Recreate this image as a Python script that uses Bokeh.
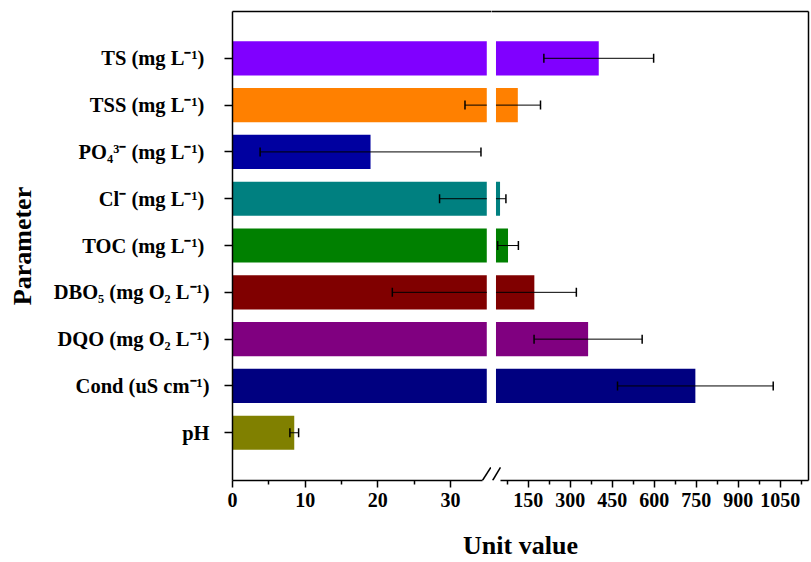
import numpy as np
from bokeh.plotting import figure
from bokeh.models import Range1d, FixedTicker, LinearAxis, Label
from bokeh.layouts import row, column
from bokeh.embed import file_html
from bokeh.resources import INLINE

# ---------------- data (top to bottom) ----------------
parameters = ["TS  (mg L⁻¹)", "TSS  (mg L⁻¹)", "PO₄³⁻  (mg L⁻¹)", "Cl⁻  (mg L⁻¹)",
              "TOC  (mg L⁻¹)", "DBO₅ (mg O₂ L⁻¹)", "DQO (mg O₂ L⁻¹)",
              "Cond (uS cm⁻¹)", "pH"]
means = [402, 113, 19.0, 49.5, 78, 172, 364, 747, 8.5]
sds = [196, 81, 15.2, 21, 37, 150, 193, 278, 0.6]
colors = ["#8000FF", "#FF8000", "#0000A0", "#008080", "#008000",
          "#800000", "#800080", "#000080", "#808000"]

left_ticks = [0, 10, 20, 30]
left_minor = [5, 15, 25]
right_ticks = [150, 300, 450, 600, 750, 900, 1050]
right_minor = [75, 225, 375, 525, 675, 825, 975, 1125]

BREAK = 35            # axis break value
LEFT_END = 35.65      # left panel range end
RIGHT_START, RIGHT_END = 19, 1151
Y_START, Y_END = -1.02, 9.0

FONT = "Liberation Serif"

n = len(parameters)
pos = np.arange(n)[::-1].astype(float)
means_a = np.array(means, dtype=float)
sds_a = np.array(sds, dtype=float)
lo = means_a - sds_a
hi = means_a + sds_a

y_range = Range1d(Y_START, Y_END)


def style_axis(ax):
    ax.axis_line_width = 1.5
    ax.axis_line_color = "black"
    ax.major_tick_line_width = 1.5
    ax.minor_tick_line_width = 1.5
    ax.major_tick_line_color = "black"
    ax.minor_tick_line_color = "black"
    ax.major_tick_in = 0
    ax.minor_tick_in = 0
    ax.major_tick_out = 7
    ax.minor_tick_out = 4
    ax.major_label_text_font = FONT
    ax.major_label_text_font_style = "bold"
    ax.major_label_text_font_size = "20px"
    ax.major_label_text_color = "black"


def blank_axis(bounds):
    ax = LinearAxis(ticker=FixedTicker(ticks=[], minor_ticks=[]), bounds=bounds)
    ax.axis_line_width = 1.5
    ax.axis_line_color = "black"
    ax.major_tick_out = 0
    ax.major_tick_in = 0
    ax.minor_tick_out = 0
    ax.minor_tick_in = 0
    ax.major_label_standoff = 0
    ax.major_label_text_font_size = "0px"
    return ax


def base_fig(width, x_range, mbl, mbr):
    p = figure(width=width, height=515, x_range=x_range, y_range=y_range,
               output_backend="svg", toolbar_location=None,
               x_axis_location=None, y_axis_location=None,
               min_border_left=mbl, min_border_right=mbr,
               min_border_top=11, min_border_bottom=35)
    p.outline_line_color = None
    p.background_fill_color = "white"
    p.border_fill_color = "white"
    p.grid.visible = False
    return p


# ---------------- left panel (0 .. break) ----------------
pL = base_fig(491, Range1d(0, LEFT_END), 232, 0)

pL.hbar(y=pos, left=0, right=np.minimum(means_a, BREAK), height=0.73,
        fill_color=colors, line_color=None)

mL = lo < BREAK
pL.segment(x0=lo[mL], x1=np.minimum(hi[mL], BREAK), y0=pos[mL], y1=pos[mL],
           line_color="black", line_width=1)
cap_x_L = list(lo[lo <= BREAK]) + list(hi[hi <= BREAK])
cap_y_L = list(pos[lo <= BREAK]) + list(pos[hi <= BREAK])
pL.scatter(x=cap_x_L, y=cap_y_L, marker="dash", angle=np.pi / 2, size=9,
           line_color="black", line_width=1.5)

yax = LinearAxis(ticker=FixedTicker(ticks=list(pos), minor_ticks=[]),
                 bounds=(Y_START - 0.18, Y_END))
style_axis(yax)
yax.major_tick_out = 8
yax.major_label_standoff = 15
yax.major_label_text_font_size = "20.5px"
yax.major_label_overrides = {float(p_): lab for p_, lab in zip(pos, parameters)}
yax.axis_label = "Parameter"
yax.axis_label_text_font = FONT
yax.axis_label_text_font_style = "bold"
yax.axis_label_text_font_size = "26px"
yax.axis_label_text_color = "black"
yax.axis_label_standoff = 14
pL.add_layout(yax, "left")

xaxL = LinearAxis(ticker=FixedTicker(ticks=left_ticks, minor_ticks=left_minor),
                  bounds=(-1, 34.4))
style_axis(xaxL)
pL.add_layout(xaxL, "below")
pL.add_layout(blank_axis((-1.2, LEFT_END)), "above")

# axis-break mark (left half of "//")
pL.segment(x0=[BREAK - 0.6], y0=[Y_START], x1=[BREAK + 0.55], y1=[Y_START + 0.28],
           line_color="black", line_width=1.5)

# ---------------- right panel (break .. end) ----------------
pR = base_fig(320, Range1d(RIGHT_START, RIGHT_END), 0, 3)

mR = means_a > BREAK
pR.hbar(y=pos[mR], left=BREAK, right=means_a[mR], height=0.73,
        fill_color=[c for c, m in zip(colors, mR) if m], line_color=None)

mE = hi > BREAK
pR.segment(x0=np.maximum(lo[mE], BREAK), x1=hi[mE], y0=pos[mE], y1=pos[mE],
           line_color="black", line_width=1)
cap_x_R = list(lo[lo >= BREAK]) + list(hi[hi >= BREAK])
cap_y_R = list(pos[lo >= BREAK]) + list(pos[hi >= BREAK])
pR.scatter(x=cap_x_R, y=cap_y_R, marker="dash", angle=np.pi / 2, size=9,
           line_color="black", line_width=1.5)

xaxR = LinearAxis(ticker=FixedTicker(ticks=right_ticks, minor_ticks=right_minor),
                  bounds=(51, RIGHT_END))
style_axis(xaxR)
pR.add_layout(xaxR, "below")
pR.add_layout(blank_axis((RIGHT_START, RIGHT_END)), "above")
pR.add_layout(blank_axis((Y_START, Y_END)), "right")

# axis-break mark (right half of "//")
pR.segment(x0=[BREAK - 12], y0=[Y_START], x1=[BREAK + 16], y1=[Y_START + 0.28],
           line_color="black", line_width=1.5)

# ---------------- x-axis title ----------------
pX = figure(width=811, height=47, x_range=Range1d(0, 1), y_range=Range1d(0, 1),
            output_backend="svg", toolbar_location=None,
            x_axis_location=None, y_axis_location=None,
            min_border_left=232, min_border_right=3,
            min_border_top=0, min_border_bottom=0)
pX.outline_line_color = None
pX.grid.visible = False
pX.add_layout(Label(x=0.5, y=0.36, text="Unit value", text_align="center",
                    text_baseline="middle", text_font=FONT,
                    text_font_style="bold", text_font_size="26px",
                    text_color="black"))

layout = column(row(pL, pR), pX)

open("out.html", "w").write(file_html(layout, INLINE))
